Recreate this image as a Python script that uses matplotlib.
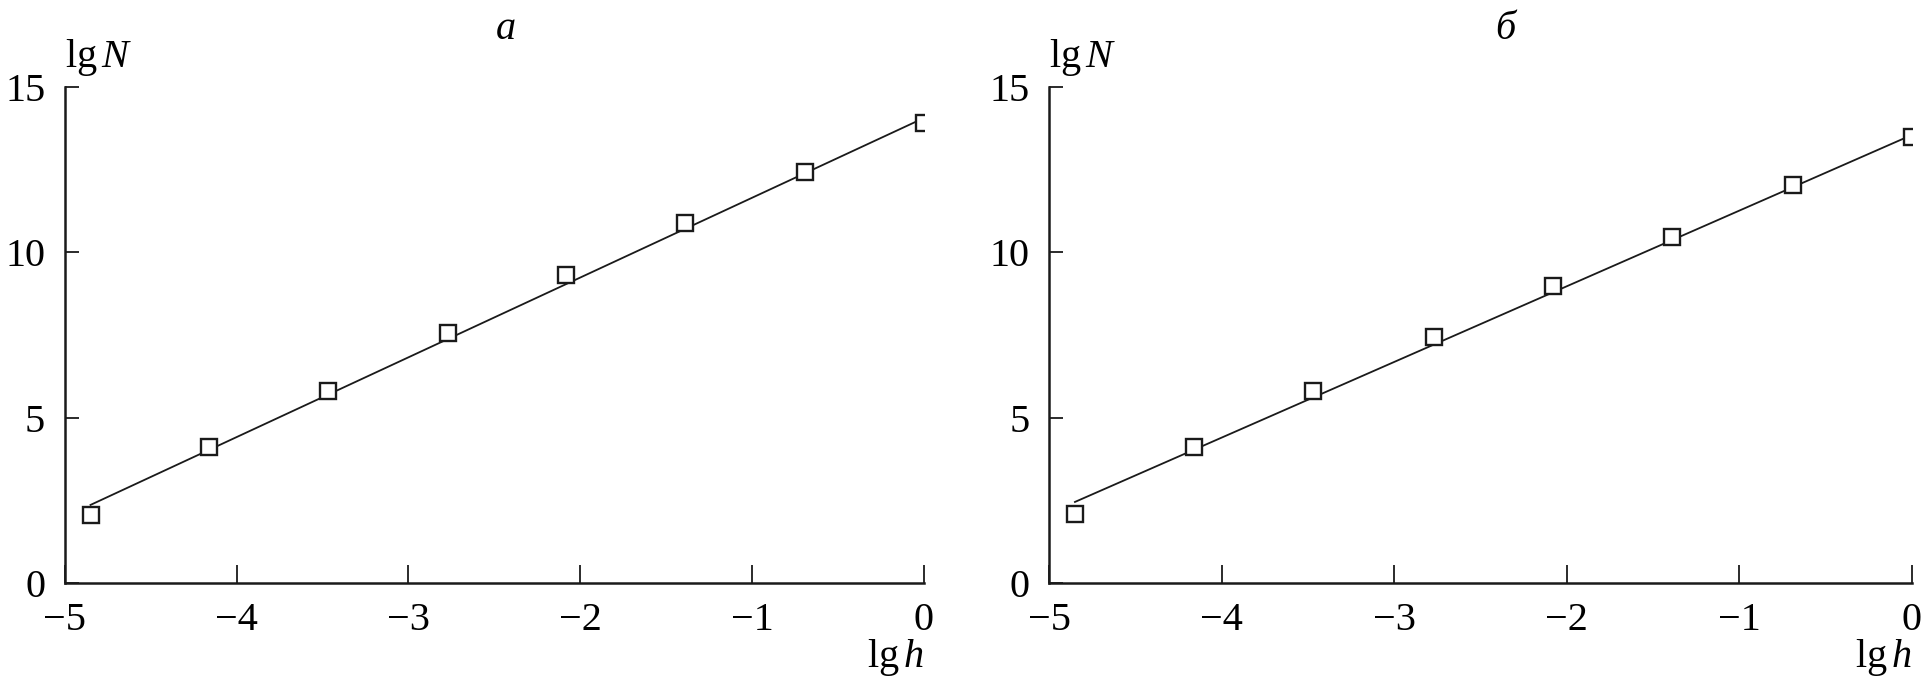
import matplotlib.pyplot as plt

plt.rcParams['font.family'] = ['Liberation Serif', 'DejaVu Serif']
plt.rcParams['mathtext.fontset'] = 'custom'
plt.rcParams['mathtext.rm'] = 'Liberation Serif'
plt.rcParams['mathtext.it'] = 'Liberation Serif:italic'

# data (lg h, lg N)
lg_h = [-4.85, -4.16, -3.47, -2.77, -2.08, -1.39, -0.69, 0.0]
lgN_a = [2.06, 4.10, 5.81, 7.56, 9.30, 10.90, 12.43, 13.90]
lgN_b = [2.10, 4.10, 5.81, 7.45, 8.97, 10.46, 12.02, 13.49]

# fitted straight lines (end points)
fit_x = [-4.85, 0.0]
fit_a = [2.36, 14.06]
fit_b = [2.45, 13.55]

panel_titles = ['а', 'б']
xticks = [-5, -4, -3, -2, -1, 0]
xticklabels = ['\u22125', '\u22124', '\u22123', '\u22122', '\u22121', '0']
yticks = [0, 5, 10, 15]
yticklabels = ['0', '5', '10', '15']

fig = plt.figure(figsize=(19.27, 6.94), dpi=100)
ax_a = fig.add_axes([0.0336, 0.160, 0.4458, 0.7147])
ax_b = fig.add_axes([0.5444, 0.160, 0.4478, 0.7147])

fs = 29
for ax, lgN, fit, title, tx in [(ax_a, lgN_a, fit_a, panel_titles[0], 0.514),
                                (ax_b, lgN_b, fit_b, panel_titles[1], 0.529)]:
    ax.plot(fit_x, fit, color='#1a1a1a', linewidth=1.3, zorder=2)
    ax.plot(lg_h, lgN, linestyle='none', marker='s', markersize=12,
            markerfacecolor='white', markeredgecolor='#1a1a1a',
            markeredgewidth=1.7, zorder=3)

    ax.set_xlim(-5, 0)
    ax.set_ylim(0, 15)
    ax.set_xticks(xticks)
    ax.set_xticklabels(xticklabels)
    ax.set_yticks(yticks)
    ax.set_yticklabels(yticklabels)

    for side in ['top', 'right']:
        ax.spines[side].set_visible(False)
    for side in ['left', 'bottom']:
        ax.spines[side].set_linewidth(1.8)
        ax.spines[side].set_color('#1a1a1a')

    ax.tick_params(axis='x', direction='in', length=13, width=1.3,
                   pad=14, labelsize=fs, color='#1a1a1a')
    ax.tick_params(axis='y', direction='in', length=10, width=1.3,
                   pad=14, labelsize=fs, color='#1a1a1a')

    ax.text(0.0, 1.04, r'$\mathrm{lg}\,N$', transform=ax.transAxes,
            ha='left', va='baseline', fontsize=fs)
    ax.text(1.0, -0.169, r'$\mathrm{lg}\,h$', transform=ax.transAxes,
            ha='right', va='baseline', fontsize=fs)
    ax.text(tx, 1.115, title, transform=ax.transAxes, ha='center',
            va='center', fontsize=fs, style='italic')

plt.savefig('out.png', dpi=100)
